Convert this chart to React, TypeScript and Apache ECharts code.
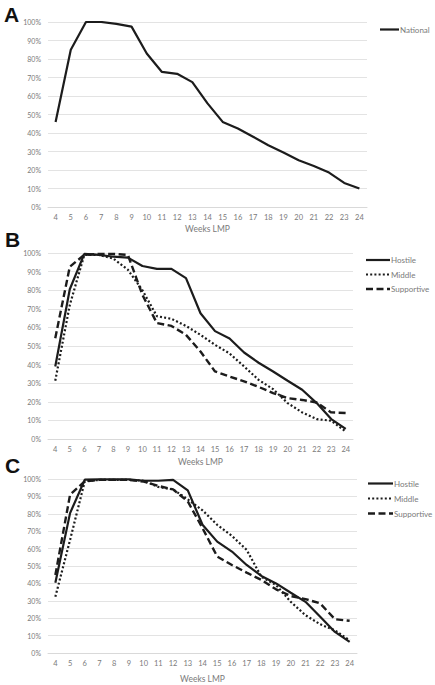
import React, { useEffect, useRef } from "react";
import * as echarts from "echarts";

const weeks = ["4","5","6","7","8","9","10","11","12","13","14","15","16","17","18","19","20","21","22","23","24"];

const nationalA = [46, 85, 100, 100, 99, 97.5, 83, 73, 72, 67.5, 56, 46, 42.4, 38, 33.4, 29.5, 25.3, 22.2, 18.6, 13, 10];

const hostileB = [39, 80.5, 99.5, 99, 98, 97.5, 93, 91.5, 91.5, 86.5, 67.6, 58, 54, 46.5, 41, 36.3, 31.3, 26.5, 19.3, 10.7, 5.4];
const middleB = [31.3, 72, 99, 99, 97, 91, 80, 66, 64.6, 60.8, 56, 50.6, 46, 39, 31.8, 26.8, 19.3, 14.3, 10.7, 9.8, 4];
const supportiveB = [54.2, 92.6, 99, 99.5, 99.5, 99, 77.5, 62.3, 60.8, 56, 47, 36.3, 33.6, 31, 28, 24.7, 22, 21, 19.6, 14.3, 14];

const hostileC = [40.4, 80.4, 99.6, 99.8, 99.8, 99.8, 99, 99, 99.5, 93.5, 73.7, 64, 58.3, 50.6, 44.3, 40, 34.6, 29.4, 20.8, 12.1, 6.4];
const middleC = [32.3, 65, 98.7, 99.5, 99.5, 99.5, 99, 95.4, 94, 88.3, 82, 73.7, 67.3, 59.3, 43.8, 39, 29.4, 21.7, 16.5, 13, 7.3];
const supportiveC = [44.8, 91, 98.7, 99.5, 99.5, 99.5, 98.5, 96, 94, 87.1, 71.8, 55.4, 50.6, 46.2, 42, 36.6, 32.7, 31, 28.5, 19.4, 18.5];

const yTicks = [0, 10, 20, 30, 40, 50, 60, 70, 80, 90, 100];
const legendA = ["National"];
const legendBC = ["Hostile", "Middle", "Supportive"];

const FONT = "Lato, 'Open Sans', sans-serif";
const GRAY = "#7a7a7a";
const LINE = "#1c1c1c";

const DOT = [2, 2.2];
const DASH = [7, 3.5];
const solid = { color: LINE, width: 2.2, type: "solid" as const };
const dotted = { color: LINE, width: 2.2, type: DOT as any };
const dashed = { color: LINE, width: 2.4, type: DASH as any };

function legendItems(names: string[], x: number, y0: number, len: number, step: number) {
  const styles = [null, DOT, DASH];
  const widths = [2.2, 2.2, 2.4];
  const out: any[] = [];
  names.forEach((n, i) => {
    const y = y0 + i * step;
    out.push({
      type: "line",
      shape: { x1: x, y1: y, x2: x + len, y2: y },
      style: { stroke: LINE, lineWidth: widths[i], lineDash: styles[i] || undefined },
    });
    out.push({
      type: "text",
      x: x + len + 1,
      y: y,
      style: { text: n, fontSize: 8, fontFamily: FONT, fill: GRAY, verticalAlign: "middle", align: "left" },
    });
  });
  return out;
}

export default function App() {
  const ref = useRef<HTMLDivElement>(null);
  useEffect(() => {
    document.body.style.margin = "0";
    const chart = echarts.init(ref.current!, null, { renderer: "svg" });
    const grids = [
      { left: 48, top: 22, width: 319, height: 185 },
      { left: 48, top: 253, width: 305, height: 186 },
      { left: 48, top: 479, width: 309, height: 174 },
    ];
    const nameGaps = [17, 18, 21];
    const xAxes = grids.map((_, i) => ({
      type: "category",
      gridIndex: i,
      data: weeks,
      boundaryGap: true,
      name: "Weeks LMP",
      nameLocation: "middle",
      nameGap: nameGaps[i],
      nameTextStyle: { color: GRAY, fontSize: 8.5, fontFamily: FONT },
      axisLine: { lineStyle: { color: "#d9d9d9", width: 1 } },
      axisTick: { show: false },
      axisLabel: { color: GRAY, fontSize: 7.5, fontFamily: FONT, margin: 6, interval: 0 },
    }));
    const yAxes = grids.map((_, i) => ({
      type: "value",
      gridIndex: i,
      min: yTicks[0],
      max: yTicks[yTicks.length - 1],
      interval: 10,
      axisLine: { show: false },
      axisTick: { show: false },
      axisLabel: { color: GRAY, fontSize: 7, fontFamily: FONT, margin: 7, formatter: "{value}%" },
      splitLine: { lineStyle: { color: "#e3e3e3", width: 1 } },
    }));
    const letterFont = "'Liberation Sans', Arial, sans-serif";
    const option: any = {
      animation: false,
      backgroundColor: "#ffffff",
      grid: grids,
      xAxis: xAxes,
      yAxis: yAxes,
      graphic: [
        { type: "text", left: 4, top: 4, style: { text: "A", fontSize: 21, fontWeight: "bold", fontFamily: letterFont, fill: "#111" } },
        { type: "text", left: 5, top: 229, style: { text: "B", fontSize: 21, fontWeight: "bold", fontFamily: letterFont, fill: "#111" } },
        { type: "text", left: 5, top: 455, style: { text: "C", fontSize: 21, fontWeight: "bold", fontFamily: letterFont, fill: "#111" } },
        ...legendItems(legendA, 380, 29.5, 19, 14.5),
        ...legendItems(legendBC, 366, 260, 24, 14.5),
        ...legendItems(legendBC, 368, 483.5, 25, 15),
      ],
      series: [
        { name: "National", type: "line", xAxisIndex: 0, yAxisIndex: 0, data: nationalA, symbol: "none", lineStyle: solid },
        { name: "Hostile", type: "line", xAxisIndex: 1, yAxisIndex: 1, data: hostileB, symbol: "none", lineStyle: solid },
        { name: "Middle", type: "line", xAxisIndex: 1, yAxisIndex: 1, data: middleB, symbol: "none", lineStyle: dotted },
        { name: "Supportive", type: "line", xAxisIndex: 1, yAxisIndex: 1, data: supportiveB, symbol: "none", lineStyle: dashed },
        { name: "Hostile", type: "line", xAxisIndex: 2, yAxisIndex: 2, data: hostileC, symbol: "none", lineStyle: solid },
        { name: "Middle", type: "line", xAxisIndex: 2, yAxisIndex: 2, data: middleC, symbol: "none", lineStyle: dotted },
        { name: "Supportive", type: "line", xAxisIndex: 2, yAxisIndex: 2, data: supportiveC, symbol: "none", lineStyle: dashed },
      ],
    };
    chart.setOption(option);
    return () => chart.dispose();
  }, []);
  return <div ref={ref} style={{ width: 435, height: 685, position: "absolute", left: 0, top: 0 }} />;
}
